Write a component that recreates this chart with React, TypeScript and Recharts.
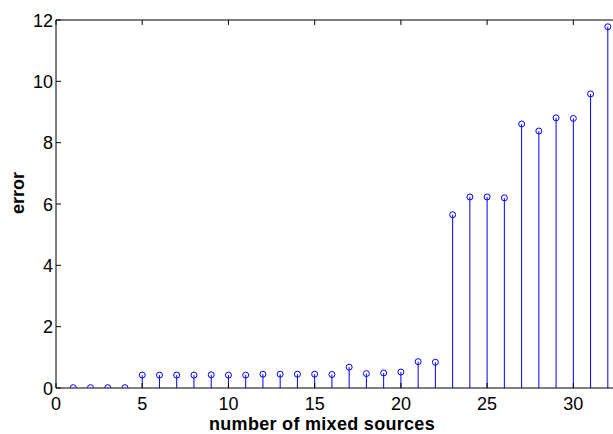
import { ComposedChart, XAxis, YAxis, Scatter, ReferenceLine, Label } from "recharts";

const sources = [
  1, 2, 3, 4, 5, 6, 7, 8, 9, 10, 11, 12, 13, 14, 15, 16,
  17, 18, 19, 20, 21, 22, 23, 24, 25, 26, 27, 28, 29, 30, 31, 32,
];
const errors = [
  0.01, 0.01, 0.01, 0.01, 0.42, 0.42, 0.42, 0.42, 0.43, 0.42, 0.42, 0.45, 0.45, 0.45, 0.45, 0.44,
  0.68, 0.47, 0.49, 0.52, 0.86, 0.84, 5.65, 6.23, 6.23, 6.2, 8.61, 8.38, 8.81, 8.79, 9.59, 11.78,
];
const xTicks = [0, 5, 10, 15, 20, 25, 30];
const yTicks = [0, 2, 4, 6, 8, 10, 12];
const xDomain = [0, 32.3];
const yDomain = [0, 12];
// length of the top-edge tick marks, in y units
const TOP_TICK = 0.16;

const data = sources.map((n, i) => ({ n, err: errors[i] }));

const BLUE = "#0000ff";
const FONT = "Arial, 'Liberation Sans', Helvetica, sans-serif";

// MATLAB-style ticks: marks point into the axes box
function BottomTick({ x, y, payload }: any) {
  return (
    <g>
      <line x1={x} x2={x} y1={y} y2={y - 5} stroke="#000" />
      <text x={x} y={y + 22} textAnchor="middle" fontSize={18} fontFamily={FONT} fill="#000">
        {payload.value}
      </text>
    </g>
  );
}

function LeftTick({ x, y, payload }: any) {
  return (
    <g>
      <line x1={x} x2={x + 5} y1={y} y2={y} stroke="#000" />
      <text x={x - 3} y={y + 6.5} textAnchor="end" fontSize={18} fontFamily={FONT} fill="#000">
        {payload.value}
      </text>
    </g>
  );
}

function StemHead({ cx, cy }: any) {
  return <circle cx={cx} cy={cy} r={3} fill="none" stroke={BLUE} strokeWidth={1} />;
}

export default function App() {
  const top = yDomain[1];
  return (
    <div style={{ position: "absolute", left: 0, top: 0, width: 613, height: 434, background: "#fff" }}>
      <ComposedChart width={613} height={434} data={data} margin={{ top: 20, right: 0, left: 0, bottom: 0 }}>
        <XAxis
          xAxisId="b"
          type="number"
          dataKey="n"
          domain={xDomain}
          allowDataOverflow
          ticks={xTicks}
          height={46}
          tickSize={0}
          tickMargin={0}
          tickLine={false}
          axisLine={{ stroke: "#000" }}
          tick={(p: any) => <BottomTick {...p} />}
          interval={0}
        >
          <Label
            content={() => (
              <text x={322} y={430} textAnchor="middle" fontSize={18} fontWeight="bold" fontFamily={FONT} letterSpacing={0.3} fill="#000">
                number of mixed sources
              </text>
            )}
          />
        </XAxis>
        <YAxis
          yAxisId="l"
          type="number"
          domain={yDomain}
          allowDataOverflow
          ticks={yTicks}
          width={56}
          tickSize={0}
          tickMargin={0}
          tickLine={false}
          axisLine={{ stroke: "#000" }}
          tick={(p: any) => <LeftTick {...p} />}
          interval={0}
        >
          <Label
            content={() => (
              <text
                x={24}
                y={193}
                transform="rotate(-90 24 193)"
                textAnchor="middle"
                fontSize={18}
                fontWeight="bold"
                fontFamily={FONT}
                fill="#000"
              >
                error
              </text>
            )}
          />
        </YAxis>
        {/* top edge of the axes box with its tick marks */}
        <ReferenceLine
          xAxisId="b"
          yAxisId="l"
          segment={[
            { x: xDomain[0], y: top },
            { x: xDomain[1], y: top },
          ]}
          ifOverflow="visible"
          stroke="#000"
          strokeWidth={1}
        />
        {xTicks.map((t) => (
          <ReferenceLine
            key={`top-${t}`}
            xAxisId="b"
            yAxisId="l"
            segment={[
              { x: t, y: top },
              { x: t, y: top - TOP_TICK },
            ]}
            ifOverflow="visible"
            stroke="#000"
            strokeWidth={1}
          />
        ))}
        {data.map((d) => (
          <ReferenceLine
            key={d.n}
            xAxisId="b"
            yAxisId="l"
            segment={[
              { x: d.n, y: 0 },
              { x: d.n, y: d.err },
            ]}
            stroke={BLUE}
            strokeWidth={1}
          />
        ))}
        <Scatter
          xAxisId="b"
          yAxisId="l"
          dataKey="err"
          shape={(p: any) => <StemHead {...p} />}
          isAnimationActive={false}
        />
      </ComposedChart>
    </div>
  );
}
